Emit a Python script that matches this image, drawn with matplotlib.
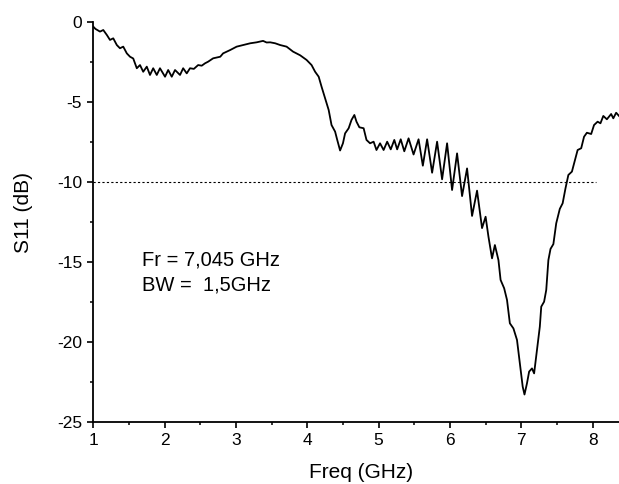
import matplotlib
matplotlib.use("Agg")
import matplotlib.pyplot as plt
from matplotlib.ticker import MultipleLocator

plt.rcParams["font.family"] = ["Liberation Sans", "DejaVu Sans"]
plt.rcParams["axes.unicode_minus"] = False

# S11 trace (GHz, dB)
freq = [1.00, 1.03, 1.094, 1.14, 1.19, 1.234, 1.28, 1.33, 1.374, 1.42, 1.47, 1.515, 1.56,
        1.61, 1.655, 1.70, 1.75, 1.795, 1.84, 1.89, 1.935, 2.006, 2.05, 2.10, 2.146,
        2.216, 2.26, 2.31, 2.356, 2.41, 2.47, 2.52, 2.567, 2.61, 2.68, 2.78, 2.82, 2.92,
        3.01, 3.10, 3.20, 3.29, 3.38, 3.43, 3.48, 3.55, 3.62, 3.71, 3.80, 3.90, 3.99,
        4.06, 4.11, 4.16, 4.20, 4.25, 4.30, 4.34, 4.39, 4.42, 4.46, 4.50, 4.53, 4.58,
        4.62, 4.66, 4.69, 4.73, 4.79, 4.83, 4.88, 4.93, 4.97, 5.02, 5.07, 5.12, 5.17,
        5.22, 5.26, 5.31, 5.36, 5.42, 5.49, 5.56, 5.62, 5.68, 5.75, 5.82, 5.89, 5.96,
        6.03, 6.10, 6.17, 6.24, 6.31, 6.38, 6.45, 6.50, 6.54, 6.59, 6.63, 6.68, 6.71,
        6.76, 6.80, 6.84, 6.89, 6.94, 6.98, 7.02, 7.045, 7.08, 7.11, 7.15, 7.18, 7.22,
        7.26, 7.28, 7.32, 7.35, 7.38, 7.41, 7.45, 7.49, 7.54, 7.58, 7.62, 7.66, 7.71,
        7.76, 7.79, 7.84, 7.88, 7.92, 7.98, 8.02, 8.07, 8.11, 8.15, 8.20, 8.26, 8.29,
        8.33, 8.37]
s11 = [-0.31, -0.45, -0.62, -0.52, -0.83, -1.14, -1.04, -1.46, -1.66, -1.56, -1.98, -2.19, -2.30,
       -2.91, -2.71, -3.13, -2.81, -3.33, -2.91, -3.33, -2.91, -3.44, -3.02, -3.44, -3.02,
       -3.33, -2.91, -3.23, -2.91, -2.95, -2.71, -2.75, -2.60, -2.50, -2.29, -2.19, -1.98, -1.77,
       -1.56, -1.46, -1.35, -1.29, -1.20, -1.30, -1.29, -1.35, -1.46, -1.56, -1.87, -2.10, -2.39,
       -2.71, -3.13, -3.44, -4.06, -4.79, -5.52, -6.46, -6.87, -7.39, -8.05, -7.60, -6.98, -6.66,
       -6.14, -5.83, -6.25, -6.60, -6.66, -7.39, -7.60, -7.50, -8.02, -7.60, -8.02, -7.50, -7.98,
       -7.39, -7.98, -7.35, -8.10, -7.29, -8.30, -7.35, -9.00, -7.35, -9.44, -7.50, -9.85, -7.60,
       -10.52, -8.23, -10.90, -9.17, -12.14, -10.56, -12.90, -12.19, -13.44, -14.79, -13.96, -14.90, -16.14,
       -16.66, -17.39, -18.85, -19.17, -19.89, -21.35, -22.81, -23.30, -22.60, -21.87, -21.67, -21.98, -20.52,
       -19.06, -17.81, -17.50, -16.77, -14.90, -14.20, -13.90, -12.60, -11.70, -11.35, -10.41, -9.58, -9.37,
       -8.54, -8.02, -7.91, -7.19, -6.94, -7.02, -6.46, -6.25, -6.35, -5.89, -6.10, -5.77, -6.04,
       -5.69, -5.89]

ref_level = -10
ref_end = 8.05
notes = ["Fr = 7,045 GHz", "BW =  1,5GHz"]

fig = plt.figure(figsize=(6.19, 4.84), dpi=100)
ax = fig.add_axes([0.1507, 0.1287, 0.8493, 0.8265])

ax.plot(freq, s11, color="black", lw=1.3, solid_joinstyle="round")
ax.hlines(ref_level, 1, ref_end, colors="black", linestyles=(0, (2, 2)), lw=0.8)

ax.set_xlim(1, 8.37)
ax.set_ylim(-25, 0)
ax.xaxis.set_major_locator(MultipleLocator(1))
ax.xaxis.set_minor_locator(MultipleLocator(0.5))
ax.yaxis.set_major_locator(MultipleLocator(5))
ax.yaxis.set_minor_locator(MultipleLocator(2.5))

for side in ("top", "right"):
    ax.spines[side].set_visible(False)
for side in ("left", "bottom"):
    ax.spines[side].set_linewidth(1.3)

ax.tick_params(which="major", direction="out", length=4, width=1.2, labelsize=12.5, pad=4)
ax.tick_params(which="minor", direction="out", length=2.5, width=1.1)

ax.set_xlabel("Freq (GHz)", fontsize=15)
ax.set_ylabel("S11 (dB)", fontsize=15)
ax.xaxis.set_label_coords(0.509, -0.103)
ax.yaxis.set_label_coords(-0.115, 0.524)

ax.text(1.68, -14.9, notes[0], fontsize=14.5, va="center", ha="left")
ax.text(1.68, -16.45, notes[1], fontsize=14.5, va="center", ha="left")

fig.savefig("out.png", dpi=100)
